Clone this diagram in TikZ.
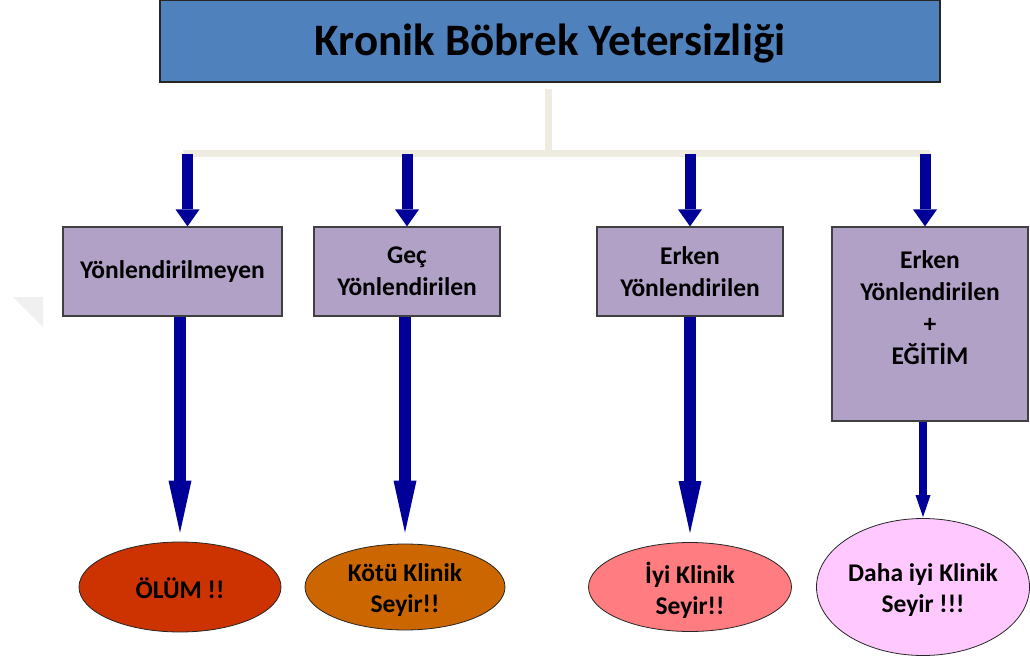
\documentclass[tikz,border=0pt]{standalone}
\usepackage{fontspec}
\setmainfont{Carlito}
\usetikzlibrary{arrows.meta,shapes.geometric,calc}
\definecolor{titleblue}{RGB}{79,129,189}
\definecolor{boxpurple}{RGB}{178,161,199}
\definecolor{barbeige}{RGB}{238,236,225}
\definecolor{arrownavy}{RGB}{0,0,153}
\definecolor{deathred}{RGB}{204,51,0}
\definecolor{badorange}{RGB}{204,102,0}
\definecolor{goodpink}{RGB}{255,124,128}
\definecolor{betterpink}{RGB}{255,201,255}
\begin{document}
\begin{tikzpicture}[x=1pt,y=-1pt,
  titlebox/.style={draw=black!85,line width=1.2pt,fill=titleblue,minimum width=780pt,minimum height=82pt,inner sep=0pt,
    text height=40pt,text depth=10pt,font=\fontsize{45}{48}\selectfont\bfseries},
  stagebox/.style={draw=black!75,line width=1.2pt,fill=boxpurple,minimum height=89pt,inner sep=0pt,align=center,
    font=\fontsize{25.5}{32}\selectfont\bfseries},
  outcome/.style={ellipse,draw=black!85,line width=0.8pt,inner sep=0pt},
  outtext/.style={inner sep=0pt,align=center,font=\fontsize{25.5}{31}\selectfont\bfseries},
  bar/.style={draw=barbeige,line width=7pt},
  toparrow/.style={draw=arrownavy,line width=11pt,-{Triangle[width=24pt,length=17pt,line width=0pt]}},
  longarrow/.style={draw=arrownavy,line width=12pt,-{Triangle[width=23pt,length=52pt,line width=0pt]}},
  smallarrow/.style={draw=arrownavy,line width=8pt,-{Triangle[width=15pt,length=22pt,line width=0pt]}}
]
\useasboundingbox (0,0) rectangle (1030,660);
% faint watermark
\fill[black!6] (13,297) -- (43,297) -- (43,327) -- cycle;

\node[titlebox] (title) at (550,41) {Kronik Böbrek Yetersizliği};

% connector tree
\coordinate (stemtop) at (548,89);
\coordinate (stembot) at (548,153);
\coordinate (barl) at (183,153.5);
\coordinate (barr) at (930,153.5);
\draw[bar] (stemtop) -- (stembot);
\draw[bar] (barl) -- (barr);

\coordinate (t1) at (187.5,154);
\coordinate (t2) at (407,154);
\coordinate (t3) at (690,154);
\coordinate (t4) at (925,154);

% stage boxes
\node[stagebox,minimum width=219pt,text height=18pt,text depth=4pt] (b1) at (172.5,271.5) {Yönlendirilmeyen};
\node[stagebox,minimum width=186pt] (b2) at (407,271.5) {Geç\\Yönlendirilen};
\node[stagebox,minimum width=186pt] (b3) at (690,271.5) {Erken\\Yönlendirilen};
\node[stagebox,minimum width=196pt,minimum height=194pt] (b4) at (930,324) {Erken\\Yönlendirilen\\+\\EĞİTİM\\\mbox{}};

% outcomes
\node[outcome,fill=deathred,minimum width=202pt,minimum height=90pt] (e1) at (180,587) {};
\node[outcome,fill=badorange,minimum width=200pt,minimum height=86pt] (e2) at (405,587) {};
\node[outcome,fill=goodpink,minimum width=203pt,minimum height=89pt] (e3) at (690,587) {};
\node[outcome,fill=betterpink,minimum width=213pt,minimum height=137pt] (e4) at (923,587) {};
\node[outtext] (e1t) at (180,588.5) {ÖLÜM !!};
\node[outtext] (e2t) at (405,590.5) {Kötü Klinik\\Seyir!!};
\node[outtext] (e3t) at (690,590) {İyi Klinik\\Seyir!!};
\node[outtext] (e4t) at (923,590.5) {Daha iyi Klinik\\Seyir !!!};

% top arrows
\draw[toparrow] (t1) -- (t1 |- b1.north);
\draw[toparrow] (t2) -- (t2 |- b2.north);
\draw[toparrow] (t3) -- (t3 |- b3.north);
\draw[toparrow] (t4) -- (t4 |- b4.north);

% bottom arrows
\draw[longarrow,shorten >=9pt] (e1 |- b1.south) -- (e1.north);
\draw[longarrow,shorten >=11pt] (e2 |- b2.south) -- (e2.north);
\draw[longarrow,shorten >=9pt] (e3 |- b3.south) -- (e3.north);
\draw[smallarrow,shorten >=1pt] (e4 |- b4.south) -- (e4.north);
\end{tikzpicture}
\end{document}
